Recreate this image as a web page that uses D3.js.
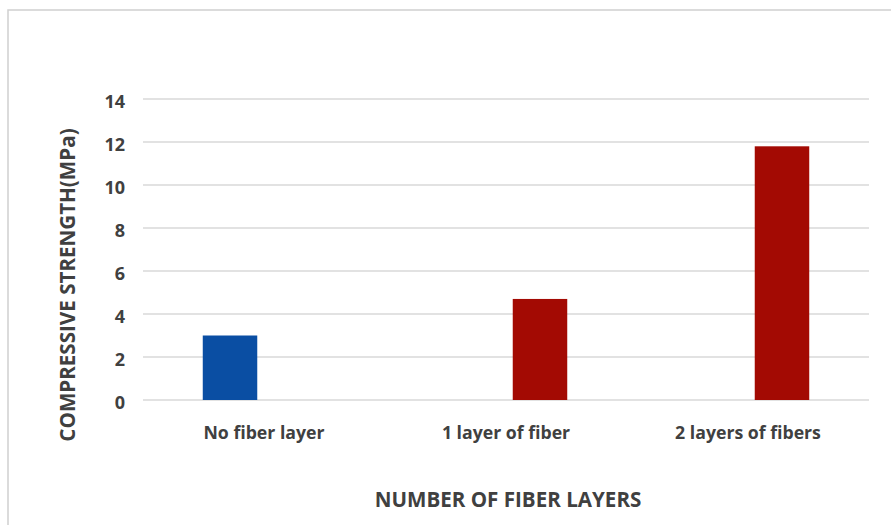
<!DOCTYPE html>
<html>
<head>
<meta charset="utf-8">
<script src="https://cdn.jsdelivr.net/npm/d3@7"></script>
<style>
  html, body { margin: 0; padding: 0; background: #fff; }
  svg { display: block; }
  text { font-family: "Open Sans", "Noto Sans", sans-serif; font-weight: 700; fill: #404040; }
</style>
</head>
<body>
<svg id="chart" width="891" height="525"></svg>
<script>
const categories = ["No fiber layer", "1 layer of fiber", "2 layers of fibers"];
const seriesNames = ["Control", "Fiber"];
const controlValues = [3.0, null, null];
const fiberValues = [null, 4.7, 11.8];
const yTicks = [0, 2, 4, 6, 8, 10, 12, 14];
const seriesColors = ["#0a4ea3", "#a30a03"];
const yTitle = "COMPRESSIVE STRENGTH(MPa)";
const xTitle = "NUMBER OF FIBER LAYERS";

const svg = d3.select("#chart");
const W = 891, H = 525;
const plot = { left: 143, right: 869, top: 99, bottom: 400 };

// outer chart border (cropped on right and bottom)
svg.append("rect")
  .attr("x", 8).attr("y", 10)
  .attr("width", W + 20).attr("height", H + 20)
  .attr("fill", "#fff").attr("stroke", "#d0d0d0").attr("stroke-width", 1.5);

const x0 = d3.scaleBand().domain(categories).range([plot.left, plot.right]).paddingInner(0).paddingOuter(0);
const x1 = d3.scaleBand().domain(seriesNames).range([0, x0.bandwidth()]).paddingInner(0.1985).paddingOuter(0.879);
const y = d3.scaleLinear().domain([0, 14]).range([plot.bottom, plot.top]);

// gridlines
svg.append("g").selectAll("line").data(yTicks).join("line")
  .attr("x1", plot.left).attr("x2", plot.right)
  .attr("y1", d => y(d)).attr("y2", d => y(d))
  .attr("stroke", "#d9d9d9").attr("stroke-width", 1.5);

// y tick labels via axis
const yAxis = d3.axisLeft(y).tickValues(yTicks).tickSize(0).tickPadding(18);
const yg = svg.append("g").attr("transform", `translate(${plot.left},3)`).call(yAxis);
yg.select(".domain").remove();
yg.selectAll("text").attr("font-size", 18).attr("fill", "#595959")
  .style("font-family", '"Open Sans", sans-serif').style("font-weight", 700);

// bars
const seriesData = [controlValues, fiberValues];
const rows = [];
categories.forEach((c, i) => {
  seriesNames.forEach((s, j) => {
    const v = seriesData[j][i];
    if (v != null) rows.push({ c, s, v, color: seriesColors[j] });
  });
});
svg.append("g").selectAll("rect").data(rows).join("rect")
  .attr("x", d => x0(d.c) + x1(d.s))
  .attr("width", x1.bandwidth())
  .attr("y", d => y(d.v))
  .attr("height", d => y(0) - y(d.v))
  .attr("fill", d => d.color);

// x category labels via axis
const xAxis = d3.axisBottom(x0).tickSize(0).tickPadding(26);
const xg = svg.append("g").attr("transform", `translate(0,${plot.bottom})`).call(xAxis);
xg.select(".domain").remove();
xg.selectAll("text").attr("font-size", 17.7).attr("fill", "#404040")
  .style("font-family", '"Open Sans", sans-serif').style("font-weight", 700);

// axis titles
svg.append("text")
  .attr("transform", `translate(75,285) rotate(-90)`)
  .attr("text-anchor", "middle").attr("font-size", 20.6)
  .text(yTitle);
svg.append("text")
  .attr("x", 508).attr("y", 507)
  .attr("text-anchor", "middle").attr("font-size", 20.6)
  .text(xTitle);
</script>
</body>
</html>
